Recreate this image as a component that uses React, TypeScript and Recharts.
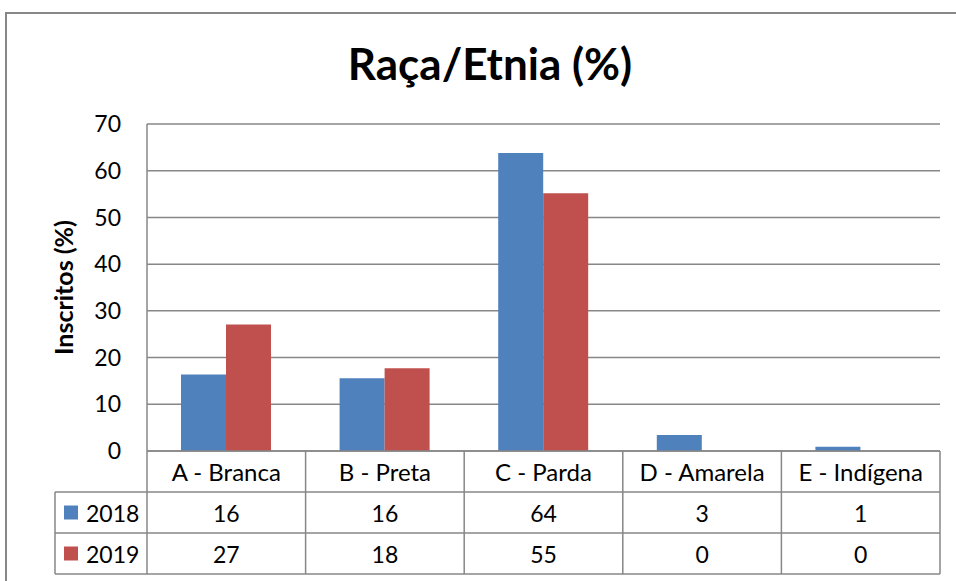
import { Bar, BarChart, CartesianGrid, XAxis, YAxis } from 'recharts'

const categories = ['A - Branca', 'B - Preta', 'C - Parda', 'D - Amarela', 'E - Indígena']
const values2018 = [16.4, 15.6, 63.8, 3.4, 0.9]
const values2019 = [27.1, 17.7, 55.2, 0, 0]
const seriesNames = ['2018', '2019']
const yTicks = [0, 10, 20, 30, 40, 50, 60, 70]

const BLUE = '#4F81BD'
const RED = '#C0504D'
const LINE = '#878787'
const FONT = 'Lato, "Noto Sans", sans-serif'

const ROW = 41
const LEGEND_LEFT = 55

const data = categories.map((name, i) => ({ name, y2018: values2018[i], y2019: values2019[i] }))

// category axis drawn as Excel's data table: header row + one row per series
function TableTick(props: any) {
  const { x, y, payload, index } = props
  const half = payload?.offset || 79.3
  const left = x - half
  const right = x + half
  const tableRight = left + half * 2 * categories.length
  const rows = [values2018, values2019]
  const colors = [BLUE, RED]
  const textStyle = { fontFamily: FONT, fontSize: 23, fill: '#000' }
  return (
    <g>
      <line x1={right} y1={y} x2={right} y2={y + ROW * 3} stroke={LINE} strokeWidth={1.5} />
      {index === 0 && (
        <g>
          <line x1={left} y1={y} x2={left} y2={y + ROW * 3} stroke={LINE} strokeWidth={1.5} />
          <line x1={LEGEND_LEFT} y1={y + ROW} x2={LEGEND_LEFT} y2={y + ROW * 3} stroke={LINE} strokeWidth={1.5} />
          {[1, 2, 3].map((r) => (
            <line key={r} x1={LEGEND_LEFT} y1={y + ROW * r} x2={tableRight} y2={y + ROW * r} stroke={LINE} strokeWidth={1.5} />
          ))}
          {seriesNames.map((s, r) => (
            <g key={s}>
              <rect x={LEGEND_LEFT + 9} y={y + ROW * (r + 1) + ROW / 2 - 7} width={14} height={14} fill={colors[r]} />
              <text x={LEGEND_LEFT + 31} y={y + ROW * (r + 1) + ROW / 2} dominantBaseline="central" {...textStyle}>
                {s}
              </text>
            </g>
          ))}
        </g>
      )}
      <text x={x} y={y + ROW / 2} textAnchor="middle" dominantBaseline="central" {...textStyle} fontSize={24}>
        {payload.value}
      </text>
      {rows.map((vals, r) => (
        <text key={r} x={x} y={y + ROW * (r + 1) + ROW / 2} textAnchor="middle" dominantBaseline="central" {...textStyle}>
          {Math.round(vals[index])}
        </text>
      ))}
    </g>
  )
}

export default function App() {
  return (
    <div style={{ position: 'absolute', left: 0, top: 0, width: 956, height: 581, overflow: 'hidden', background: '#fff' }}>
      <div
        style={{
          position: 'absolute',
          left: 5,
          top: 12,
          width: 1000,
          height: 620,
          borderTop: `2px solid ${LINE}`,
          borderLeft: `2px solid ${LINE}`,
        }}
      />
      <div
        style={{
          position: 'absolute',
          left: 5,
          top: 41,
          width: 970,
          textAlign: 'center',
          fontFamily: FONT,
          fontWeight: 700,
          fontSize: 44,
          lineHeight: 1,
        }}
      >
        Raça/Etnia (%)
      </div>
      <div style={{ position: 'absolute', left: 0, top: 0 }}>
        <BarChart
          width={956}
          height={581}
          data={data}
          margin={{ top: 124, right: 16, bottom: 7, left: 87 }}
          barGap={0}
          barSize={45}
        >
          <CartesianGrid vertical={false} stroke={LINE} strokeWidth={1.5} />
          <XAxis
            dataKey="name"
            height={123}
            tickSize={0}
            tickMargin={0}
            axisLine={{ stroke: LINE, strokeWidth: 1.5 }}
            tick={<TableTick />}
            interval={0}
          />
          <YAxis
            domain={[0, 70]}
            ticks={yTicks}
            width={60}
            tickSize={0}
            tickMargin={26}
            axisLine={{ stroke: LINE, strokeWidth: 1.5 }}
            tick={{ fontFamily: FONT, fontSize: 23, fill: '#000' }}
            label={{
              content: (p: any) => {
                const vb = p.viewBox || { x: 87, y: 124, width: 60, height: 327 }
                return (
                  <text
                    x={63}
                    y={vb.y + vb.height / 2}
                    transform={`rotate(-90, 63, ${vb.y + vb.height / 2})`}
                    textAnchor="middle"
                    dominantBaseline="central"
                    style={{ fontFamily: FONT, fontWeight: 700, fontSize: 25, fill: '#000' }}
                  >
                    Inscritos (%)
                  </text>
                )
              },
            }}
          />
          <Bar dataKey="y2018" name={seriesNames[0]} fill={BLUE} isAnimationActive={false} />
          <Bar dataKey="y2019" name={seriesNames[1]} fill={RED} isAnimationActive={false} />
        </BarChart>
      </div>
    </div>
  )
}
